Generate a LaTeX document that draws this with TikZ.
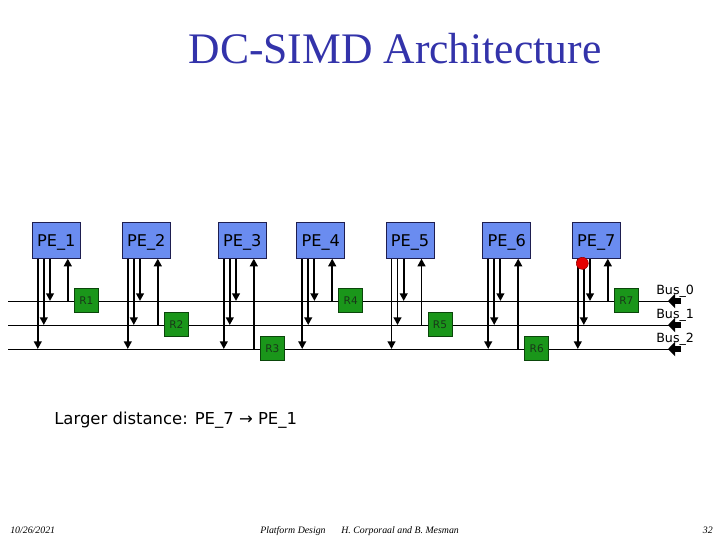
\documentclass[tikz,border=0pt]{standalone}
\usepackage{fontspec}
\setmainfont{Liberation Serif}
\newfontfamily\dvsans{DejaVu Sans}
\usetikzlibrary{arrows.meta,calc}

\definecolor{titleblue}{RGB}{51,51,170}
\definecolor{pefill}{RGB}{106,140,240}
\definecolor{peline}{RGB}{30,30,80}
\definecolor{rfill}{RGB}{26,150,26}
\definecolor{rline}{RGB}{10,70,10}
\definecolor{rtext}{RGB}{25,55,25}

\tikzset{
  pe/.style={draw=peline, fill=pefill, minimum width=1.2cm, minimum height=0.9cm,
    inner sep=0pt, text depth=0pt, font=\dvsans\fontsize{11.5}{12}\selectfont},
  rbox/.style={draw=rline, fill=rfill, minimum size=0.6cm, inner sep=0pt,
    text=rtext, font=\dvsans\fontsize{7.5}{8}\selectfont},
  dn/.style={line width=1.4pt, -{Triangle[length=5.5pt,width=5.5pt]}},
  busline/.style={line width=0.7pt},
  busend/.style={line width=4.5pt, -{Triangle[length=5pt,width=10pt]}},
  foot/.style={font=\itshape\fontsize{7}{8}\selectfont, anchor=base west, inner sep=0pt}
}

\begin{document}
\begin{tikzpicture}[x=0.025cm, y=-0.025cm]
  \useasboundingbox (0,0) rectangle (720,540);

  % title
  \node[text=titleblue, font=\fontsize{31}{32}\selectfont, anchor=base] (title) at (395,63) {DC-SIMD Architecture};

  % buses
  \foreach \b/\y in {0/301, 1/325, 2/349}{
    \coordinate (bw\b) at (8,\y);
    \coordinate (be\b) at (681,\y);
    \draw[busline] (bw\b) -- (be\b);
    \draw[busend] (be\b) -- ++(-13,0);
    \node[anchor=base west, inner sep=0pt, font=\dvsans\fontsize{9}{10}\selectfont] (lb\b) at (656,\y-7) {Bus\_\b};
  }

  % processing elements, their bus taps and registers
  \foreach \i/\x/\b in {1/56.3/0, 2/146.3/1, 3/242.3/2, 4/320.7/0, 5/410/1, 6/506.7/2, 7/596.3/0}{
    \node[pe] (pe\i) at (\x,240.3) {PE\_\i};
    \coordinate (a\i) at ($(pe\i.south)+(-18.5,0)$);
    \coordinate (b\i) at ($(pe\i.south)+(-12.5,0)$);
    \coordinate (c\i) at ($(pe\i.south)+(-6.3,0)$);
    \coordinate (u\i) at ($(pe\i.south)+(11.5,0)$);
    \draw[dn] (a\i) -- (a\i |- bw2);
    \draw[dn] (b\i) -- (b\i |- bw1);
    \draw[dn] (c\i) -- (c\i |- bw0);
    \draw[dn] (u\i |- bw\b) -- (u\i);
    \node[rbox] (r\i) at (\x+30,300.5+24*\b) {R\i};
  }

  % collision on PE_7
  \node[circle, draw=red!60!black, fill=red!90!black, minimum size=0.3cm, inner sep=0pt] (hit) at (582.3,263.3) {};

  \node[anchor=base west, inner sep=0pt, font=\dvsans\fontsize{11.7}{13}\selectfont] (note) at (54,424) {Larger distance: PE\_7 → PE\_1};

  % footer
  \node[foot] (date) at (10,533) {10/26/2021};
  \node[foot] (course) at (260,533) {Platform Design};
  \node[foot] (authors) at (341,533) {H. Corporaal and B. Mesman};
  \node[foot, anchor=base east] (page) at (713,533) {32};
\end{tikzpicture}
\end{document}
